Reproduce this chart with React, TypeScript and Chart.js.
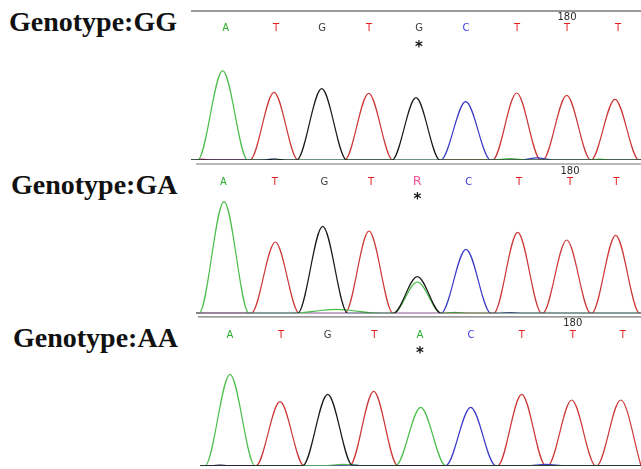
import React, { useEffect, useRef } from "react";
import { Chart, registerables } from "chart.js";

Chart.register(...registerables);

// ---------- data (x in scan units, y in RFU) ----------
const scanMin = 0;
const scanMax = 461;
const rfuMax = 1200;

// Genotype GG
const callsGG = ["A", "T", "G", "T", "G", "C", "T", "T", "T"];
const callScanGG = [45.7, 96, 142, 189, 239, 286, 337, 387, 438];
const peakBaseGG = ["A", "T", "G", "T", "G", "C", "T", "T", "T"];
const peakScanGG = [42.7, 94, 141.7, 188.7, 236, 285.7, 336.7, 386.7, 435];
const peakRfuGG = [893, 677, 713, 667, 623, 583, 670, 647, 607];
const peakWidthGG = [25, 24, 25, 24, 24, 25, 24, 24, 24];
const minorBaseGG = ["T", "G", "C", "A", "C", "A"];
const minorScanGG = [22, 95, 92, 330, 357, 420];
const minorRfuGG = [8, 10, 10, 14, 22, 8];
const minorWidthGG = [8, 10, 12, 18, 16, 10];

// Genotype GA
const callsGA = ["A", "T", "G", "T", "R", "C", "T", "T", "T"];
const callScanGA = [43.3, 94.7, 144.3, 191, 237.3, 288.7, 339, 390, 436.3];
const peakBaseGA = ["A", "T", "G", "T", "G", "A", "C", "T", "T", "T"];
const peakScanGA = [44, 95.3, 142.7, 189, 237.3, 237.3, 286, 337.7, 386.7, 435.7];
const peakRfuGA = [1116, 713, 870, 823, 366, 313, 640, 810, 733, 780];
const peakWidthGA = [25, 24, 25, 24, 24, 24, 25, 24, 24, 24];
const minorBaseGA = ["A", "A", "C"];
const minorScanGA = [156, 275, 330];
const minorRfuGA = [40, 10, 8];
const minorWidthGA = [45, 12, 10];

// Genotype AA
const callsAA = ["A", "T", "G", "T", "A", "C", "T", "T", "T"];
const callScanAA = [50, 101, 147.7, 194.3, 240, 291, 341.7, 392.7, 442.7];
const peakBaseAA = ["A", "T", "G", "T", "A", "C", "T", "T", "T"];
const peakScanAA = [50, 100, 147.7, 193.7, 240.7, 290.7, 341.7, 391.7, 440.7];
const peakRfuAA = [914, 640, 714, 744, 584, 584, 714, 657, 657];
const peakWidthAA = [25, 24, 25, 24, 25, 25, 24, 24, 24];
const minorBaseAA = ["A", "C", "C", "G"];
const minorScanAA = [163, 172, 366, 40];
const minorRfuAA = [14, 10, 14, 6];
const minorWidthAA = [20, 8, 20, 8];

const genotypeLabels = ["Genotype:GG", "Genotype:GA", "Genotype:AA"];
const positionLabel = "180";
const positionCallIndex = 7;
const snpCallIndex = 4;

// ---------- styles ----------
const traceColors: Record<string, string> = {
  A: "rgb(75,190,75)",
  C: "rgb(60,60,200)",
  G: "rgb(25,25,25)",
  T: "rgb(205,55,55)",
};
const callColors: Record<string, string> = {
  A: "rgb(40,175,40)",
  C: "rgb(60,60,225)",
  G: "rgb(60,60,60)",
  T: "rgb(230,30,30)",
  R: "rgb(240,90,150)",
};

type Panel = {
  top: number;
  height: number;
  padTop: number;
  padBottom: number;
  traceStart: number;
  calls: string[];
  callScan: number[];
  peakBase: string[];
  peakScan: number[];
  peakRfu: number[];
  peakWidth: number[];
  minorBase: string[];
  minorScan: number[];
  minorRfu: number[];
  minorWidth: number[];
  topLine: number | null;
  topLineStart: number;
  bottomLine: number | null;
  bottomLineStart: number;
  callY: number;
  numY: number;
  starY: number;
};

const panels: Panel[] = [
  {
    top: 0, height: 166, padTop: 40, padBottom: 6, traceStart: 11,
    calls: callsGG, callScan: callScanGG,
    peakBase: peakBaseGG, peakScan: peakScanGG, peakRfu: peakRfuGG, peakWidth: peakWidthGG,
    minorBase: minorBaseGG, minorScan: minorScanGG, minorRfu: minorRfuGG, minorWidth: minorWidthGG,
    topLine: 11, topLineStart: 11, bottomLine: 164, bottomLineStart: 16,
    callY: 28, numY: 17, starY: 46,
  },
  {
    top: 163, height: 156, padTop: 30.3, padBottom: 5.7, traceStart: 16,
    calls: callsGA, callScan: callScanGA,
    peakBase: peakBaseGA, peakScan: peakScanGA, peakRfu: peakRfuGA, peakWidth: peakWidthGA,
    minorBase: minorBaseGA, minorScan: minorScanGA, minorRfu: minorRfuGA, minorWidth: minorWidthGA,
    topLine: null, topLineStart: 0, bottomLine: null, bottomLineStart: 0,
    callY: 19, numY: 8, starY: 35,
  },
  {
    top: 316, height: 153, padTop: 29.7, padBottom: 3.3, traceStart: 20,
    calls: callsAA, callScan: callScanAA,
    peakBase: peakBaseAA, peakScan: peakScanAA, peakRfu: peakRfuAA, peakWidth: peakWidthAA,
    minorBase: minorBaseAA, minorScan: minorScanAA, minorRfu: minorRfuAA, minorWidth: minorWidthAA,
    topLine: 0.8, topLineStart: 18, bottomLine: null, bottomLineStart: 0,
    callY: 19, numY: 7.5, starY: 36,
  },
];

function buildTrace(p: Panel, base: string) {
  const peaks: [number, number, number][] = [];
  p.peakBase.forEach((b, i) => {
    if (b === base) peaks.push([p.peakScan[i], p.peakRfu[i], p.peakWidth[i]]);
  });
  p.minorBase.forEach((b, i) => {
    if (b === base) peaks.push([p.minorScan[i], p.minorRfu[i], p.minorWidth[i]]);
  });
  peaks.sort((a, b) => a[0] - b[0]);
  const pts: { x: number; y: number }[] = [{ x: p.traceStart, y: 0 }];
  peaks.forEach(([pos, h, w]) => {
    const start = Math.max(pos - w, p.traceStart);
    const last = pts[pts.length - 1];
    if (start <= last.x) {
      // shared valley between neighbouring peaks of the same base
      if (pts.length > 1) last.x = (last.x + start) / 2;
    } else {
      pts.push({ x: start, y: 0 });
    }
    pts.push({ x: pos, y: h });
    pts.push({ x: Math.min(pos + w, scanMax), y: 0 });
  });
  if (pts[pts.length - 1].x < scanMax) pts.push({ x: scanMax, y: 0 });
  return pts;
}

const annotationPlugin = {
  id: "chromAnnotations",
  afterDatasetsDraw(chart: any, _args: any, opts: any) {
    const p: Panel = opts.panel;
    const ctx = chart.ctx as CanvasRenderingContext2D;
    const xs = chart.scales.x;
    ctx.save();
    if (p.topLine !== null) {
      ctx.strokeStyle = "rgb(120,120,120)";
      ctx.lineWidth = 1.3;
      ctx.beginPath();
      ctx.moveTo(p.topLineStart, p.topLine);
      ctx.lineTo(chart.width, p.topLine);
      ctx.stroke();
    }
    if (p.bottomLine !== null) {
      ctx.strokeStyle = "rgb(185,185,185)";
      ctx.lineWidth = 2;
      ctx.beginPath();
      ctx.moveTo(p.bottomLineStart, p.bottomLine);
      ctx.lineTo(chart.width, p.bottomLine);
      ctx.stroke();
    }
    ctx.textAlign = "center";
    ctx.textBaseline = "middle";
    p.calls.forEach((c, i) => {
      const x = xs.getPixelForValue(p.callScan[i]);
      ctx.fillStyle = callColors[c] || "#000";
      ctx.font = c === "R" ? "13px 'DejaVu Sans', sans-serif" : "10px 'DejaVu Sans', sans-serif";
      ctx.fillText(c, x, p.callY);
    });
    const nx = xs.getPixelForValue(p.callScan[positionCallIndex]);
    ctx.fillStyle = "rgb(40,40,40)";
    ctx.font = "10px 'DejaVu Sans', sans-serif";
    ctx.fillText(positionLabel, nx, p.numY);
    const sx = xs.getPixelForValue(p.callScan[snpCallIndex]);
    ctx.font = "bold 15px 'DejaVu Sans', sans-serif";
    ctx.fillStyle = "rgb(20,20,20)";
    ctx.fillText("*", sx, p.starY + 2);
    ctx.restore();
  },
};

function ChromPanel({ p }: { p: Panel }) {
  const ref = useRef<HTMLCanvasElement | null>(null);
  useEffect(() => {
    if (!ref.current) return;
    const order = ["G", "A", "C", "T"];
    const chart = new Chart(ref.current, {
      type: "line",
      data: {
        datasets: order.map((b) => ({
          label: b,
          data: buildTrace(p, b),
          borderColor: traceColors[b],
          borderWidth: 1.2,
          pointRadius: 0,
          fill: false,
          cubicInterpolationMode: "monotone" as const,
        })),
      },
      options: {
        animation: false,
        responsive: false,
        maintainAspectRatio: false,
        events: [],
        layout: { padding: { top: p.padTop, bottom: p.padBottom, left: 0, right: 0 } },
        scales: {
          x: { type: "linear", min: scanMin, max: scanMax, display: false },
          y: { type: "linear", min: 0, max: rfuMax, display: false },
        },
        plugins: {
          legend: { display: false },
          tooltip: { enabled: false },
          chromAnnotations: { panel: p },
        } as any,
      },
      plugins: [annotationPlugin],
    });
    return () => chart.destroy();
  }, [p]);
  return (
    <canvas
      ref={ref}
      width={461}
      height={p.height}
      style={{ position: "absolute", left: 180, top: p.top, width: 461, height: p.height }}
    />
  );
}

const labelTops = [7.5, 170.5, 324.2];
const labelLefts = [9, 11, 13];

export default function App() {
  return (
    <div
      style={{
        position: "fixed",
        left: 0,
        top: 0,
        width: 641,
        height: 469,
        background: "#fff",
        overflow: "hidden",
      }}
    >
      {genotypeLabels.map((t, i) => (
        <div
          key={t}
          style={{
            position: "absolute",
            left: labelLefts[i],
            top: labelTops[i],
            fontFamily: "'Liberation Serif', 'Times New Roman', serif",
            fontWeight: "bold",
            fontSize: 28,
            lineHeight: "28px",
            color: "#111",
            whiteSpace: "nowrap",
          }}
        >
          {t}
        </div>
      ))}
      {panels.map((p, i) => (
        <ChromPanel key={i} p={p} />
      ))}
    </div>
  );
}
